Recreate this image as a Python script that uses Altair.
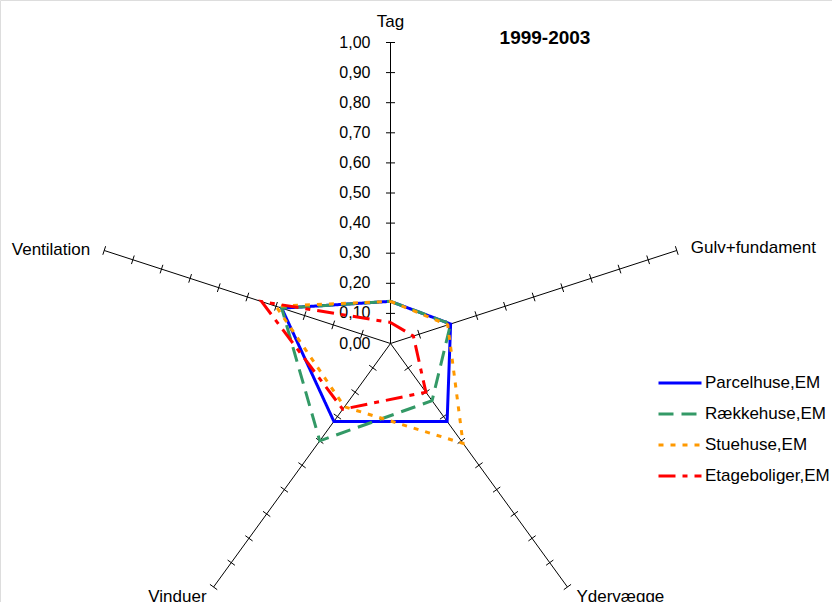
import altair as alt
import pandas as pd

# Axes of the radar, clockwise from the top
axes = ["Tag", "Gulv+fundament", "Ydervægge", "Vinduer", "Ventilation"]

# Series values, one per axis in the order above
series = ["Parcelhuse,EM", "Rækkehuse,EM", "Stuehuse,EM", "Etageboliger,EM"]
parcelhuse = [0.14, 0.21, 0.32, 0.32, 0.38]
raekkehuse = [0.14, 0.21, 0.235, 0.40, 0.38]
stuehuse = [0.14, 0.20, 0.41, 0.26, 0.40]
etageboliger = [0.07, 0.08, 0.20, 0.27, 0.45]

# Radial scale ticks and their labels
tick_values = [0.0, 0.1, 0.2, 0.3, 0.4, 0.5, 0.6, 0.7, 0.8, 0.9, 1.0]
tick_labels = ["0,00", "0,10", "0,20", "0,30", "0,40", "0,50",
               "0,60", "0,70", "0,80", "0,90", "1,00"]

title_text = "1999-2003"

colors = ["#0000FF", "#339966", "#FF9900", "#FF0000"]
dashes = [[1, 0], [15, 8], [5, 7], [17, 7, 5, 7]]

FONT = "Liberation Sans"
W, H = 832, 602
CX, CY, R = 390.5, 343.5, 301.0  # pixel centre and radius of 1.00

xdom = [-CX / R, (W - CX) / R]
ydom = [-(H - CY) / R, CY / R]
xs = alt.Scale(domain=xdom, nice=False, zero=False)
ys = alt.Scale(domain=ydom, nice=False, zero=False)
n = len(axes)
TH = 4.5 / R  # half length of the tick crosses

# --- series polygons (closed by repeating the first axis) ---
rows = []
for name, vals in zip(series, [parcelhuse, raekkehuse, stuehuse, etageboliger]):
    for i in range(n + 1):
        rows.append({"series": name, "k": i % n, "ord": i, "v": vals[i % n]})
poly = pd.DataFrame(rows)

legend = alt.Legend(
    title=None, orient="none", legendX=657, legendY=375,
    symbolType="stroke", symbolSize=43 * 43, symbolStrokeWidth=3,
    clipHeight=16, rowPadding=14, labelFont=FONT, labelFontSize=17,
    labelColor="#000000", labelOffset=2, padding=0, labelLimit=300,
)

lines = (
    alt.Chart(poly)
    .transform_calculate(a=f"2*PI*datum.k/{n}")
    .transform_calculate(px="datum.v*sin(datum.a)", py="datum.v*cos(datum.a)")
    .mark_line(strokeWidth=3, strokeCap="butt", strokeJoin="miter")
    .encode(
        x=alt.X("px:Q", scale=xs, axis=None),
        y=alt.Y("py:Q", scale=ys, axis=None),
        order="ord:Q",
        detail="series:N",
        color=alt.Color("series:N",
                        scale=alt.Scale(domain=series, range=colors),
                        legend=legend),
        strokeDash=alt.StrokeDash("series:N",
                                  scale=alt.Scale(domain=series, range=dashes),
                                  legend=legend),
    )
)

# --- spokes ---
spoke_df = pd.DataFrame({"axis": axes, "k": list(range(n))})
spokes = (
    alt.Chart(spoke_df)
    .transform_calculate(a=f"2*PI*datum.k/{n}")
    .transform_calculate(x0="0", y0="0", x1="sin(datum.a)", y1="cos(datum.a)")
    .mark_rule(color="#000000", strokeWidth=1)
    .encode(
        x=alt.X("x0:Q", scale=xs, axis=None),
        y=alt.Y("y0:Q", scale=ys, axis=None),
        x2="x1:Q",
        y2="y1:Q",
    )
)

# --- tick crosses on every spoke ---
tick_rows = [{"k": k, "v": v} for k in range(n) for v in tick_values[1:]]
ticks = (
    alt.Chart(pd.DataFrame(tick_rows))
    .transform_calculate(a=f"2*PI*datum.k/{n}")
    .transform_calculate(
        xa=f"datum.v*sin(datum.a) - {TH}*cos(datum.a)",
        ya=f"datum.v*cos(datum.a) + {TH}*sin(datum.a)",
        xb=f"datum.v*sin(datum.a) + {TH}*cos(datum.a)",
        yb=f"datum.v*cos(datum.a) - {TH}*sin(datum.a)",
    )
    .mark_rule(color="#000000", strokeWidth=1)
    .encode(
        x=alt.X("xa:Q", scale=xs, axis=None),
        y=alt.Y("ya:Q", scale=ys, axis=None),
        x2="xb:Q",
        y2="yb:Q",
    )
)

# --- radial labels on the top spoke ---
lab_df = pd.DataFrame({"v": tick_values, "label": tick_labels})
tick_text = (
    alt.Chart(lab_df)
    .transform_calculate(x0="0")
    .mark_text(align="right", baseline="middle", dx=-20, font=FONT,
               fontSize=16, color="#000000")
    .encode(
        x=alt.X("x0:Q", scale=xs, axis=None),
        y=alt.Y("v:Q", scale=ys, axis=None),
        text="label:N",
    )
)


def axis_label(names, **mark):
    return (
        alt.Chart(spoke_df)
        .transform_filter(alt.FieldOneOfPredicate(field="axis", oneOf=names))
        .transform_calculate(a=f"2*PI*datum.k/{n}")
        .transform_calculate(x1="sin(datum.a)", y1="cos(datum.a)")
        .mark_text(font=FONT, fontSize=17, color="#000000", **mark)
        .encode(
            x=alt.X("x1:Q", scale=xs, axis=None),
            y=alt.Y("y1:Q", scale=ys, axis=None),
            text="axis:N",
        )
    )


lab_top = axis_label(["Tag"], align="center", baseline="alphabetic", dy=-16)
lab_right = axis_label(["Gulv+fundament"], align="left", baseline="middle", dx=14, dy=-2)
lab_left = axis_label(["Ventilation"], align="right", baseline="middle", dx=-14, dy=0)
lab_br = axis_label(["Ydervægge"], align="left", baseline="alphabetic", dx=9, dy=15)
lab_bl = axis_label(["Vinduer"], align="right", baseline="alphabetic", dx=-7, dy=15)

title = (
    alt.Chart(pd.DataFrame({"t": [title_text]}))
    .mark_text(align="center", baseline="alphabetic", font=FONT, fontSize=19,
               fontWeight="bold", color="#000000")
    .encode(x=alt.value(545), y=alt.value(44), text="t:N")
)

chart = (
    alt.layer(spokes, ticks, tick_text, lab_top, lab_right, lab_left, lab_br,
              lab_bl, lines, title)
    .properties(width=W, height=H, padding=0,
                autosize=alt.AutoSizeParams(type="none"))
    .configure_view(stroke=None)
    .configure(background="#FFFFFF")
)

chart.save("out.html", embed_options={"renderer": "svg", "actions": False})
